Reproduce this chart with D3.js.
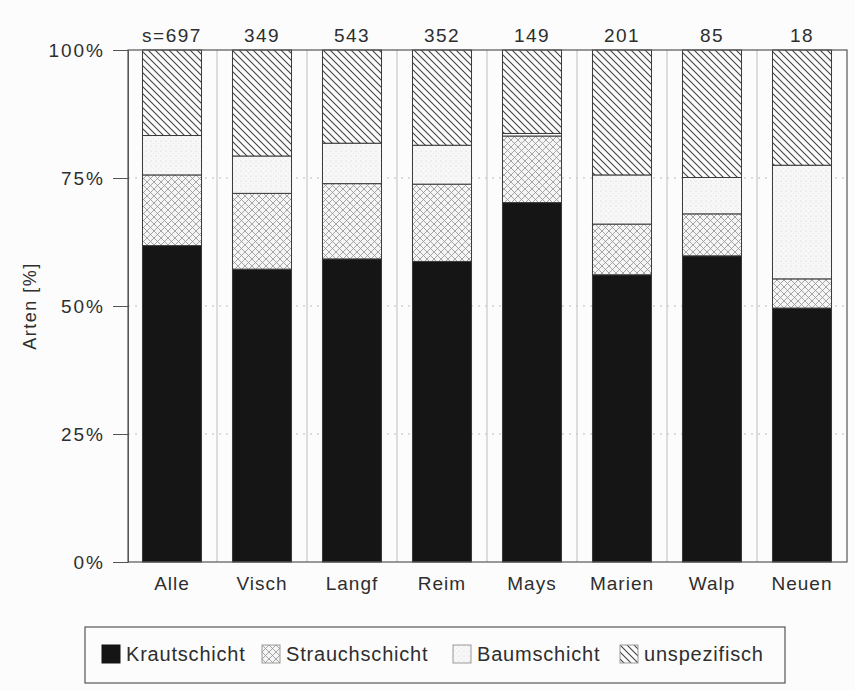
<!DOCTYPE html>
<html><head><meta charset="utf-8">
<script src="https://cdn.jsdelivr.net/npm/d3@7"></script>
<style>
html,body{margin:0;padding:0;background:#fcfcfc;}
text{font-family:"Liberation Sans",Arial,Helvetica,sans-serif;fill:#2e2e2e;}
</style></head>
<body>
<script>
const categories = ["Alle","Visch","Langf","Reim","Mays","Marien","Walp","Neuen"];
const sampleLabels = ["s=697","349","543","352","149","201","85","18"];
const krautschicht = [61.8,57.2,59.2,58.7,70.2,56.1,59.8,49.6];
const strauchschicht = [13.8,14.8,14.7,15.1,13.0,9.9,8.2,5.7];
const baumschicht = [7.7,7.3,7.9,7.6,0.5,9.6,7.1,22.2];
const unspezifisch = [16.7,20.7,18.2,18.6,16.3,24.4,24.9,22.5];
const seriesKeys = ["Krautschicht","Strauchschicht","Baumschicht","unspezifisch"];
const yTicks = [0,25,50,75,100];

const W = 855, H = 690;
const m = {left:128, right:847, top:50, bottom:562};

const rows = categories.map((c,i)=>({cat:c, Krautschicht:krautschicht[i], Strauchschicht:strauchschicht[i], Baumschicht:baumschicht[i], unspezifisch:unspezifisch[i]}));
const stacked = d3.stack().keys(seriesKeys)(rows);

const svg = d3.select("body").append("svg").attr("width",W).attr("height",H);
svg.append("rect").attr("width",W).attr("height",H).attr("fill","#fcfcfc");

const defs = svg.append("defs");
// diagonal hatch (\\\)
const ph = defs.append("pattern").attr("id","hatch").attr("patternUnits","userSpaceOnUse").attr("width",7).attr("height",7);
ph.append("rect").attr("width",7).attr("height",7).attr("fill","#fbfbfb");
ph.append("path").attr("d","M0,0 L7,7 M-1,6 L1,8 M6,-1 L8,1").attr("stroke","#444").attr("stroke-width",1.1);
// crosshatch
const pc = defs.append("pattern").attr("id","cross").attr("patternUnits","userSpaceOnUse").attr("width",7).attr("height",7);
pc.append("rect").attr("width",7).attr("height",7).attr("fill","#f5f5f5");
pc.append("path").attr("d","M0,0 L7,7 M-1,6 L1,8 M6,-1 L8,1 M0,7 L7,0 M-1,1 L1,-1 M6,8 L8,6").attr("stroke","#909090").attr("stroke-width",0.8);
// dots
const pd = defs.append("pattern").attr("id","dots").attr("patternUnits","userSpaceOnUse").attr("width",5).attr("height",5);
pd.append("rect").attr("width",5).attr("height",5).attr("fill","#f7f7f7");
pd.append("circle").attr("cx",1).attr("cy",1).attr("r",0.5).attr("fill","#c8c8c8");
pd.append("circle").attr("cx",3.5).attr("cy",3.5).attr("r",0.4).attr("fill","#d8d8d8");

const fills = {Krautschicht:"#151515", Strauchschicht:"url(#cross)", Baumschicht:"url(#dots)", unspezifisch:"url(#hatch)"};

const x = d3.scaleBand().domain(categories).range([m.left-1, m.right]).paddingInner(0.344).paddingOuter(0.172);
const y = d3.scaleLinear().domain([0,100]).range([m.bottom, m.top]);

// grid lines
svg.append("g").selectAll("line").data(yTicks.filter(t=>t>0&&t<100)).join("line")
  .attr("x1",m.left).attr("x2",m.right).attr("y1",d=>y(d)).attr("y2",d=>y(d))
  .attr("stroke","#bbb").attr("stroke-width",1).attr("stroke-dasharray","2,5");
// separators
const step = x.step();
svg.append("g").selectAll("line").data(categories.slice(1)).join("line")
  .attr("x1",d=>x(d)-x.paddingInner()*step/2).attr("x2",d=>x(d)-x.paddingInner()*step/2)
  .attr("y1",m.top).attr("y2",m.bottom).attr("stroke","#c8c8c8").attr("stroke-width",1.2);

// bars
svg.append("g").selectAll("g").data(stacked).join("g")
  .attr("fill",d=>fills[d.key])
  .selectAll("rect").data(d=>d).join("rect")
  .attr("x",d=>x(d.data.cat)).attr("width",x.bandwidth())
  .attr("y",d=>y(d[1])).attr("height",d=>y(d[0])-y(d[1]))
  .attr("stroke","#3a3a3a").attr("stroke-width",1);

// frame
svg.append("rect").attr("x",m.left).attr("y",m.top).attr("width",m.right-m.left).attr("height",m.bottom-m.top)
  .attr("fill","none").attr("stroke","#555").attr("stroke-width",1.2);

// y axis
const yAxis = svg.append("g").attr("transform",`translate(${m.left},0)`)
  .call(d3.axisLeft(y).tickValues(yTicks).tickFormat(d=>d+"%").tickSize(15).tickPadding(8));
yAxis.select(".domain").attr("stroke","#555");
yAxis.selectAll(".tick line").attr("stroke","#555");
yAxis.selectAll("text").attr("font-size",19).attr("letter-spacing",2).attr("fill","#2e2e2e")
  .style("font-family","'Liberation Sans',Arial,sans-serif").attr("dy","0.36em");

// x axis labels
const xAxis = svg.append("g").attr("transform",`translate(0,${m.bottom})`)
  .call(d3.axisBottom(x).tickSize(0).tickPadding(15));
xAxis.select(".domain").remove();
xAxis.selectAll("text").attr("font-size",19).attr("letter-spacing",1).attr("fill","#2e2e2e")
  .style("font-family","'Liberation Sans',Arial,sans-serif");

// sample size labels
svg.append("g").selectAll("text").data(categories).join("text")
  .attr("x",d=>x(d)+x.bandwidth()/2).attr("y",m.top-8).attr("text-anchor","middle")
  .attr("font-size",19).attr("letter-spacing",1.5)
  .text((d,i)=>sampleLabels[i]);

// y title
svg.append("text").attr("transform","translate(36,306) rotate(-90)").attr("text-anchor","middle")
  .attr("font-size",18).attr("letter-spacing",1.5).text("Arten [%]");

// legend
const lg = svg.append("g");
lg.append("rect").attr("x",85).attr("y",627).attr("width",700).attr("height",56)
  .attr("fill","#fcfcfc").attr("stroke","#555").attr("stroke-width",1.2);
const legendX = [102, 262, 453, 620];
const items = lg.selectAll("g").data(seriesKeys).join("g")
  .attr("transform",(d,i)=>`translate(${legendX[i]},645)`);
items.append("rect").attr("width",18).attr("height",18).attr("fill",d=>fills[d])
  .attr("stroke",d=>d==="Krautschicht"?"#151515":"#999").attr("stroke-width",1);
items.append("text").attr("x",24).attr("y",16).attr("font-size",20).attr("letter-spacing",0.8).text(d=>d);
</script>
</body></html>
